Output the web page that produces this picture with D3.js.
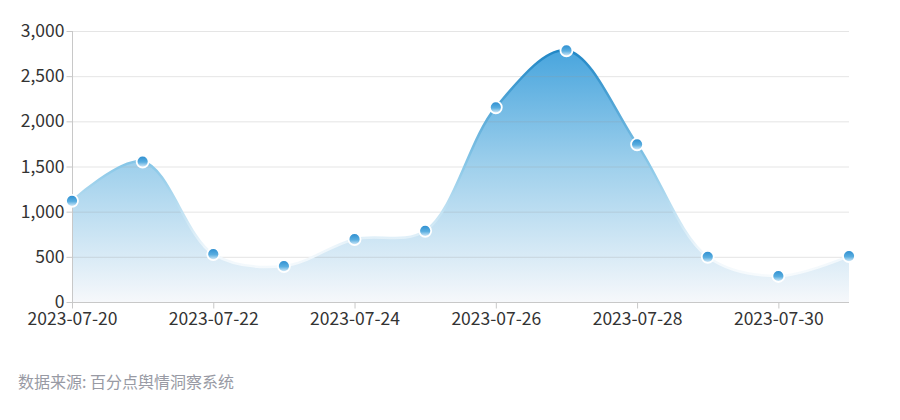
<!DOCTYPE html>
<html><head><meta charset="utf-8">
<script src="https://cdn.jsdelivr.net/npm/d3@7/dist/d3.min.js"></script>
<style>body{margin:0;background:#fff;} svg{display:block;}</style>
</head><body>
<svg id="chart" width="900" height="420"></svg>
<script>
const dates = ["2023-07-20","2023-07-21","2023-07-22","2023-07-23","2023-07-24","2023-07-25","2023-07-26","2023-07-27","2023-07-28","2023-07-29","2023-07-30","2023-07-31"];
const values = [1120, 1555, 530, 398, 695, 788, 2155, 2785, 1745, 500, 288, 508];
const yTicks = [0, 500, 1000, 1500, 2000, 2500, 3000];
const xTickLabels = ["2023-07-20","2023-07-22","2023-07-24","2023-07-26","2023-07-28","2023-07-30"];
const sourceText = "数据来源: 百分点舆情洞察系统";

const svg = d3.select("#chart");
const font = "'Noto Sans CJK SC', 'Noto Sans', sans-serif";
const m = {left: 72, right: 849, top: 31, bottom: 302};
const parse = d3.timeParse("%Y-%m-%d");
const data = dates.map((d, i) => ({date: parse(d), value: values[i]}));

const x = d3.scaleTime().domain(d3.extent(data, d => d.date)).range([m.left, m.right]);
const y = d3.scaleLinear().domain([0, 3000]).range([m.bottom, m.top]);

const defs = svg.append("defs");
const fillG = defs.append("linearGradient").attr("id", "fillG").attr("gradientUnits", "userSpaceOnUse")
  .attr("x1", 0).attr("x2", 0).attr("y1", y(3000)).attr("y2", y(0));
fillG.append("stop").attr("offset", "0%").attr("stop-color", "#3a9edb");
fillG.append("stop").attr("offset", "50%").attr("stop-color", "#9fd0ec");
fillG.append("stop").attr("offset", "100%").attr("stop-color", "#f6f8fb");
const lineG = defs.append("linearGradient").attr("id", "lineG").attr("gradientUnits", "userSpaceOnUse")
  .attr("x1", 0).attr("x2", 0).attr("y1", y(3000)).attr("y2", y(0));
lineG.append("stop").attr("offset", "0%").attr("stop-color", "#0f7cc0");
lineG.append("stop").attr("offset", "50%").attr("stop-color", "#8ac8e8");
lineG.append("stop").attr("offset", "80%").attr("stop-color", "#eef6fb");
lineG.append("stop").attr("offset", "100%").attr("stop-color", "#ffffff");
const dotG = defs.append("linearGradient").attr("id", "dotG").attr("x1", 0).attr("x2", 0).attr("y1", 0).attr("y2", 1);
dotG.append("stop").attr("offset", "0%").attr("stop-color", "#2a8ccf");
dotG.append("stop").attr("offset", "55%").attr("stop-color", "#5aaee0");
dotG.append("stop").attr("offset", "100%").attr("stop-color", "#e4f2fb");

const curve = d3.curveCatmullRom.alpha(0.5);
const area = d3.area().x(d => x(d.date)).y0(y(0)).y1(d => y(d.value)).curve(curve);
const line = d3.line().x(d => x(d.date)).y(d => y(d.value)).curve(curve);

svg.append("path").datum(data).attr("d", area).attr("fill", "url(#fillG)");

// grid
svg.append("g").selectAll("line").data(yTicks.filter(t => t > 0)).join("line")
  .attr("x1", m.left).attr("x2", m.right)
  .attr("y1", d => y(d) + 0.5).attr("y2", d => y(d) + 0.5)
  .attr("stroke", "rgba(150,150,150,0.25)").attr("stroke-width", 1);

svg.append("path").datum(data).attr("d", line).attr("fill", "none")
  .attr("stroke", "url(#lineG)").attr("stroke-width", 2.5);

// y axis
const yAxis = svg.append("g").attr("transform", `translate(${m.left + 0.5},0)`)
  .call(d3.axisLeft(y).tickValues(yTicks).tickSize(6).tickPadding(2).tickFormat(d3.format(",")));
yAxis.select(".domain").attr("stroke", "#c8c8c8").attr("d", `M0,${m.top}V${m.bottom}`);
yAxis.selectAll(".tick line").attr("stroke", "#c8c8c8");
yAxis.selectAll("text").attr("fill", "#333").style("font-family", font).style("font-size", "17.5px");

// x axis
const xAxis = svg.append("g").attr("transform", `translate(0,${m.bottom + 0.5})`)
  .call(d3.axisBottom(x).tickValues(xTickLabels.map(parse)).tickSize(6).tickPadding(4).tickFormat(d3.timeFormat("%Y-%m-%d")));
xAxis.select(".domain").attr("stroke", "#c8c8c8").attr("d", `M${m.left},0H${m.right}`);
xAxis.selectAll(".tick line").attr("stroke", "#c8c8c8");
xAxis.selectAll("text").attr("fill", "#333").style("font-family", font).style("font-size", "17.5px");

// dots
svg.append("g").selectAll("circle").data(data).join("circle")
  .attr("cx", d => x(d.date)).attr("cy", d => y(d.value)).attr("r", 6)
  .attr("fill", "url(#dotG)").attr("stroke", "#fff").attr("stroke-width", 1.8);

svg.append("text").attr("x", 18).attr("y", 388).text(sourceText)
  .attr("fill", "#989aa4").style("font-family", font).style("font-size", "16px");
</script>
</body></html>
